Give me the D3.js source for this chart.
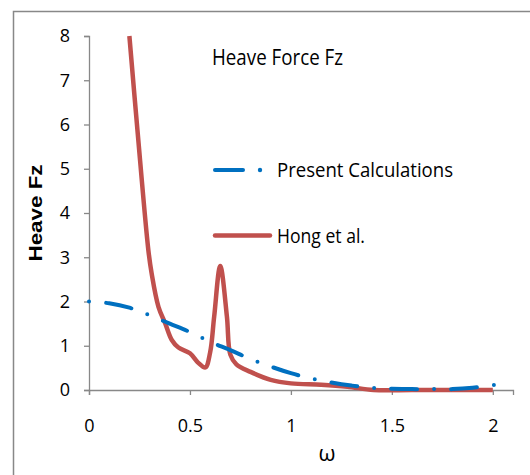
<!DOCTYPE html>
<html>
<head>
<meta charset="utf-8">
<script src="https://cdn.jsdelivr.net/npm/d3@7"></script>
<style>
  body { margin: 0; background: #fff; }
  svg text { font-family: "Liberation Sans Narrow", "Open Sans", sans-serif; fill: #000; }
</style>
</head>
<body>
<div id="chart"></div>
<script>
// omega values and heave force
const presentOmega = [0, 0.1, 0.2, 0.3, 0.4, 0.5, 0.6, 0.7, 0.8, 0.9, 1.0, 1.1, 1.2, 1.3, 1.4, 1.5, 1.6, 1.7, 1.8, 1.9, 2.0, 2.02];
const presentFz = [2.0, 1.96, 1.86, 1.69, 1.50, 1.31, 1.09, 0.90, 0.70, 0.53, 0.38, 0.26, 0.17, 0.10, 0.05, 0.03, 0.02, 0.02, 0.02, 0.05, 0.11, 0.13];

const hongOmega = [0.2, 0.24, 0.294, 0.31, 0.344, 0.377, 0.41, 0.443, 0.5, 0.54, 0.576, 0.6, 0.62, 0.65, 0.683, 0.7, 0.73, 0.8, 0.9, 1.0, 1.15, 1.28, 1.41, 1.6, 1.8, 2.0];
const hongFz = [8.0, 5.87, 3.16, 2.64, 1.88, 1.51, 1.13, 0.96, 0.83, 0.62, 0.51, 0.85, 1.66, 2.8, 1.66, 0.8, 0.58, 0.41, 0.23, 0.15, 0.12, 0.075, 0.0, 0.0, 0.0, 0.0];

const xTicks = [0, 0.5, 1, 1.5, 2];
const yTicks = [0, 1, 2, 3, 4, 5, 6, 7, 8];

const width = 530, height = 475;
const margin = { left: 89, top: 36, right: 17, bottom: 85 };

const svg = d3.select("#chart").append("svg")
  .attr("width", width)
  .attr("height", height);

// outer frame
svg.append("rect")
  .attr("x", 13.5).attr("y", 11.5)
  .attr("width", 540).attr("height", 480)
  .attr("fill", "none")
  .attr("stroke", "#888").attr("stroke-width", 1.5);

const x = d3.scaleLinear().domain([0, 2.1]).range([margin.left, width - margin.right]);
const y = d3.scaleLinear().domain([0, 8]).range([height - margin.bottom, margin.top]);

// axes
const xAxis = svg.append("g")
  .attr("transform", `translate(0,${y(0)})`)
  .call(d3.axisBottom(x).tickValues(xTicks).tickSize(5).tickPadding(24).tickFormat(d3.format("")));
const yAxis = svg.append("g")
  .attr("transform", `translate(${x(0)},0)`)
  .call(d3.axisLeft(y).tickValues(yTicks).tickSize(5).tickPadding(14));

[xAxis, yAxis].forEach(g => {
  g.select(".domain").attr("stroke", "#888").attr("stroke-width", 1.3);
  g.selectAll(".tick line").attr("stroke", "#888").attr("stroke-width", 1.3);
  g.selectAll(".tick text").attr("font-size", 18).attr("fill", "#000")
    .style("font-family", '"Liberation Sans Narrow", "Open Sans", sans-serif');
});

const line = d3.line().curve(d3.curveCatmullRom.alpha(0.5));

const presentPts = presentOmega.map((w, i) => [x(w), y(presentFz[i])]);
const hongPts = hongOmega.map((w, i) => [x(w), y(hongFz[i])]);

svg.append("path")
  .attr("d", line(hongPts))
  .attr("fill", "none")
  .attr("stroke", "#C0504D")
  .attr("stroke-width", 4.5)
  .attr("stroke-linejoin", "round");

svg.append("path")
  .attr("d", line(presentPts))
  .attr("fill", "none")
  .attr("stroke", "#0070C0")
  .attr("stroke-width", 4)
  .attr("stroke-linecap", "round")
  .attr("stroke-dasharray", "0,17,26,17");

// title
svg.append("text")
  .attr("x", 212).attr("y", 65)
  .attr("font-size", 21)
  .attr("textLength", 131).attr("lengthAdjust", "spacingAndGlyphs")
  .text("Heave Force Fz");

// legend
svg.append("line")
  .attr("x1", 215).attr("x2", 243).attr("y1", 170).attr("y2", 170)
  .attr("stroke", "#0070C0").attr("stroke-width", 4).attr("stroke-linecap", "round");
svg.append("circle").attr("cx", 260).attr("cy", 170).attr("r", 2.2).attr("fill", "#0070C0");
svg.append("text")
  .attr("x", 277).attr("y", 177)
  .attr("font-size", 20)
  .attr("textLength", 176).attr("lengthAdjust", "spacingAndGlyphs")
  .text("Present Calculations");

svg.append("line")
  .attr("x1", 215).attr("x2", 270).attr("y1", 235.5).attr("y2", 235.5)
  .attr("stroke", "#C0504D").attr("stroke-width", 4.5).attr("stroke-linecap", "round");
svg.append("text")
  .attr("x", 277).attr("y", 243)
  .attr("font-size", 20)
  .attr("textLength", 88).attr("lengthAdjust", "spacingAndGlyphs")
  .text("Hong et al.");

// axis titles
svg.append("text")
  .attr("transform", `translate(42,${(y(0) + y(8)) / 2}) rotate(-90)`)
  .attr("text-anchor", "middle")
  .attr("font-size", 19)
  .attr("font-weight", "bold")
  .style("font-family", '"Liberation Sans", Arial, sans-serif')
  .attr("textLength", 97).attr("lengthAdjust", "spacingAndGlyphs")
  .text("Heave Fz");

svg.append("text")
  .attr("x", 327).attr("y", 461)
  .attr("text-anchor", "middle")
  .attr("font-size", 22)
  .text("ω");
</script>
</body>
</html>
